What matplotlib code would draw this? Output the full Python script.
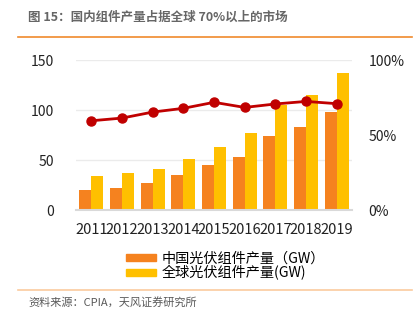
import numpy as np
import matplotlib
matplotlib.use("Agg")
import matplotlib.pyplot as plt
from matplotlib.lines import Line2D
from matplotlib.patches import Patch

plt.rcParams['font.family'] = ['Noto Sans CJK SC', 'DejaVu Sans']

years = ['2011', '2012', '2013', '2014', '2015', '2016', '2017', '2018', '2019']
china_gw = [20.3, 22.3, 26.7, 35, 45, 53, 74, 83.3, 97.7]
global_gw = [34, 36.7, 41, 51, 62.7, 77.3, 105, 115, 137.3]
share_pct = [59.5, 61.3, 65.3, 67.8, 71.8, 68.4, 70.7, 72.4, 70.9]

c_china = '#F5821F'
c_global = '#FFC000'
c_line = '#C00000'

fig = plt.figure(figsize=(4.14, 3.25), dpi=100)
ax = fig.add_axes([0.1836, 0.3538, 0.6667, 0.4615])
ax2 = ax.twinx()

x = np.arange(len(years))
w = 0.39
ax.bar(x - w / 2, china_gw, w, color=c_china, zorder=2)
ax.bar(x + w / 2, global_gw, w, color=c_global, zorder=2)

ax2.plot(x, share_pct, color=c_line, lw=2, marker='o', ms=6.5, zorder=3)

ax.set_xlim(-0.5, 8.5)
ax.set_ylim(0, 150)
ax.set_yticks([0, 50, 100, 150])
ax2.set_ylim(0, 100)
ax2.set_yticks([0, 50, 100])
ax2.set_yticklabels(['0%', '50%', '100%'])
ax.set_xticks(x)
ax.set_xticklabels(years)

ax.grid(axis='y', color='#EBEBEB', lw=1, zorder=0)
ax.set_axisbelow(True)
for a in (ax, ax2):
    for s in a.spines.values():
        s.set_visible(False)
    a.tick_params(length=0, labelsize=10, colors='#222222')
ax.spines['bottom'].set_visible(True)
ax.spines['bottom'].set_color('#D9D9D9')
ax.spines['bottom'].set_linewidth(1.5)
ax.tick_params(axis='x', labelsize=10.5, pad=9)
ax.tick_params(axis='y', pad=16)
ax2.tick_params(axis='y', pad=12)

handles = [Patch(color=c_china), Patch(color=c_global)]
fig.legend(handles, ['中国光伏组件产量（GW）', '全球光伏组件产量(GW)'],
           loc='upper left', bbox_to_anchor=(0.287, 0.248), frameon=False,
           fontsize=10.2, handlelength=2.15, handleheight=0.45,
           labelspacing=0.0, handletextpad=0.35, borderpad=0)

# title and footer
fig.text(0.068, 0.948, '图 15：国内组件产量占据全球 70%以上的市场', fontsize=9,
         color='#666666', fontweight='bold', va='center')
fig.add_artist(Line2D([0.043, 0.995], [0.886, 0.886], color='#F08A2C', lw=1.2))
fig.add_artist(Line2D([0.043, 0.995], [0.108, 0.108], color='#FBCB9E', lw=1.2))
fig.text(0.068, 0.071, '资料来源：CPIA，天风证券研究所', fontsize=8,
         color='#595959', va='center')

fig.savefig('out.png', dpi=100)
